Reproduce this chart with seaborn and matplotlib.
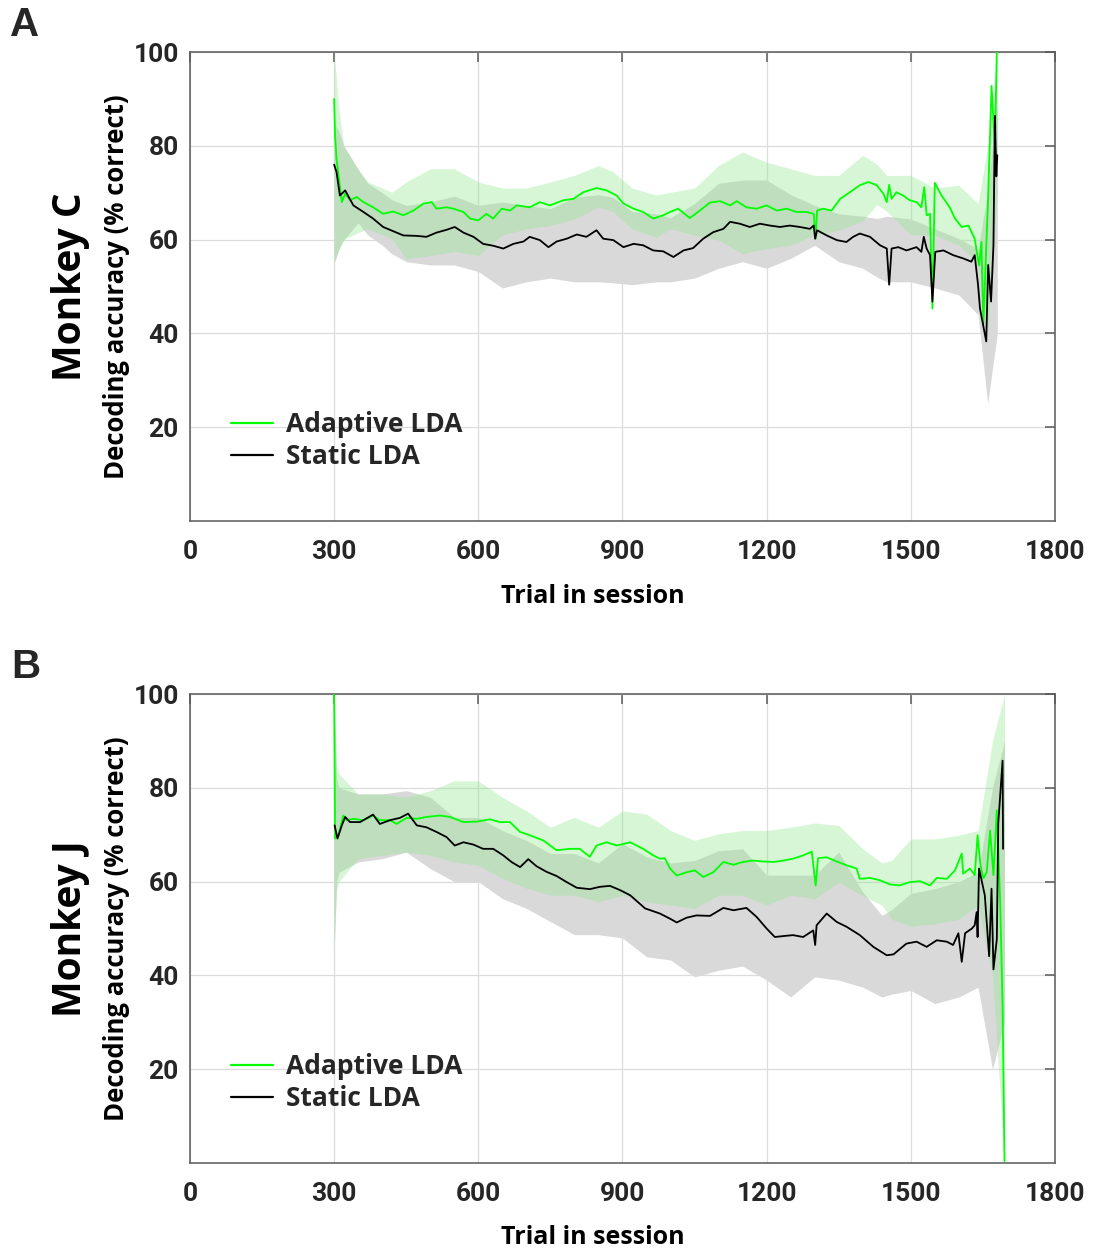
import matplotlib
matplotlib.use('Agg')
import matplotlib.pyplot as plt
import seaborn as sns

# ---- Monkey C (panel A) ----
c_adapt_x = [300, 302, 305, 316, 323, 333, 347, 361, 381, 402,
             423, 444, 465, 486, 503, 513, 534, 548, 569, 583,
             600, 617, 631, 649, 666, 680, 707, 728, 749, 777,
             798, 818, 846, 867, 888, 902, 923, 943, 964, 985,
             999, 1016, 1040, 1061, 1082, 1103, 1124, 1138, 1158, 1179,
             1200, 1221, 1242, 1262, 1283, 1298, 1302, 1305, 1318, 1335,
             1353, 1373, 1394, 1412, 1429, 1443, 1450, 1455, 1460, 1470,
             1484, 1498, 1512, 1522, 1528, 1533, 1540, 1545, 1550, 1564,
             1581, 1592, 1606, 1620, 1633, 1642, 1647, 1651, 1661, 1668,
             1675, 1679, 1682]
c_adapt_y = [90, 82, 77.2, 68.0, 69.8, 68.4, 69.1, 68.0, 66.9, 65.5,
             66.0, 65.2, 66.2, 67.7, 68.0, 66.6, 66.9, 66.6, 65.9, 64.5,
             64.1, 65.5, 64.5, 66.6, 66.2, 67.3, 66.9, 68.0, 67.3, 68.4,
             68.7, 70.1, 71.0, 70.5, 69.4, 67.7, 66.6, 65.9, 64.5, 65.2,
             65.9, 66.6, 64.6, 66.2, 67.9, 68.2, 67.3, 68.2, 66.9, 66.6,
             67.3, 66.2, 66.6, 65.9, 65.9, 65.5, 60.2, 66.2, 66.6, 66.2,
             68.7, 70.1, 71.6, 72.3, 71.6, 69.8, 68.0, 71.7, 68.7, 70.1,
             69.4, 68.4, 68.0, 66.9, 71.2, 65.2, 65.5, 45.3, 72.1, 69.4,
             66.9, 64.5, 62.7, 63.0, 60.2, 54.5, 59.5, 42.0, 69.2, 92.8,
             80, 100, 104]

c_static_x = [300, 305, 312, 323, 340, 361, 381, 402, 423, 444,
              472, 492, 513, 534, 551, 569, 590, 610, 631, 652,
              673, 694, 707, 728, 746, 763, 784, 805, 825, 846,
              860, 881, 902, 923, 943, 964, 985, 1006, 1027, 1047,
              1068, 1089, 1110, 1124, 1144, 1165, 1186, 1207, 1228, 1248,
              1269, 1290, 1298, 1301, 1305, 1325, 1346, 1366, 1380, 1394,
              1415, 1436, 1450, 1455, 1460, 1474, 1491, 1512, 1522, 1527,
              1533, 1540, 1545, 1551, 1568, 1588, 1609, 1626, 1633, 1640,
              1644, 1657, 1661, 1667, 1672, 1675, 1678, 1680]
c_static_y = [76, 74.4, 69.4, 70.5, 67.3, 65.9, 64.5, 62.7, 61.8, 60.9,
              60.8, 60.6, 61.5, 62.1, 62.7, 61.5, 60.6, 59.1, 58.7, 58.1,
              59.1, 59.6, 60.6, 59.9, 58.4, 59.6, 60.2, 61.1, 60.6, 62.0,
              60.2, 59.9, 58.4, 59.1, 58.8, 57.7, 57.5, 56.3, 57.7, 58.2,
              60.2, 61.6, 62.3, 63.8, 63.4, 62.7, 63.4, 63.0, 62.7, 63.0,
              62.7, 62.3, 63.0, 60.2, 62.0, 60.9, 59.9, 59.5, 60.6, 61.3,
              60.6, 58.8, 58.1, 50.4, 58.1, 58.4, 57.7, 58.4, 57.4, 60.6,
              58.1, 56.7, 46.8, 57.4, 57.7, 56.7, 56.0, 55.3, 56.7, 50.3,
              45.3, 38.3, 54.6, 46.8, 58.8, 86.4, 73.5, 78]

c_band_x = [300, 310, 320, 350, 370, 400, 420, 450, 500, 550, 600, 650, 700, 750, 800, 850, 880, 920,
            970, 1000, 1050, 1100, 1150, 1200, 1250, 1300, 1350, 1400, 1430, 1450, 1500, 1550, 1600,
            1640, 1660, 1680]
c_adapt_hi = [100, 88, 80, 75, 72.3, 71, 70.1, 72.3, 75.1, 75.1, 72.3, 71, 71, 72.3, 73.7, 75.8, 74.5, 71,
              69.5, 70.1, 71, 75.8, 78.7, 76.5, 75.1, 73.7, 73.7, 78, 76, 73.7, 73.7, 71, 71.6,
              67.7, 80, 100]
c_adapt_lo = [55, 58, 60, 61.5, 62.3, 61, 60.2, 55.9, 56.6, 57.5, 56.6, 61, 62.3, 63, 64.4, 67, 66, 62.3,
              60.5, 62.3, 61, 59.9, 57, 58.1, 58.8, 61, 62, 64, 67.5, 66, 61, 61, 58.8,
              55, 40, 70]
c_static_hi = [85, 83, 80, 75, 72, 70, 68.5, 67.3, 68, 69.3, 67.3, 68, 67.3, 66.6, 69, 69.6, 69, 66,
               65.5, 64.7, 67.7, 72, 72.7, 72.7, 69.6, 67.3, 65.5, 65, 64.5, 65, 64.4, 62.3, 60.2,
               58, 70, 90]
c_static_lo = [55, 58, 60, 63.6, 61, 58.8, 57, 55.3, 54.6, 54.6, 53.2, 49.7, 51, 51.8, 51, 51, 50.8, 50.4,
               51, 51, 51.8, 53.9, 55.3, 53.9, 56, 58.8, 55.3, 53.9, 52, 51, 51, 49.7, 48.2,
               44, 25, 40]

# ---- Monkey J (panel B) ----
j_adapt_x = [300, 302, 309, 319, 326, 340, 361, 381, 395, 416,
             430, 451, 472, 492, 520, 541, 569, 597, 624, 645,
             666, 687, 707, 735, 763, 791, 811, 832, 846, 867,
             888, 916, 943, 964, 978, 988, 999, 1013, 1033, 1051,
             1068, 1089, 1110, 1131, 1151, 1172, 1193, 1214, 1235, 1255,
             1276, 1294, 1302, 1307, 1325, 1346, 1366, 1387, 1394, 1415,
             1436, 1457, 1477, 1498, 1519, 1540, 1554, 1575, 1592, 1606,
             1609, 1623, 1633, 1639, 1645, 1651, 1658, 1665, 1672, 1679,
             1686, 1691, 1695]
j_adapt_y = [100, 69.2, 69.9, 74.1, 73.1, 73.4, 73.1, 74.1, 73.1, 73.1,
             72.3, 73.6, 73.4, 73.8, 74.1, 73.8, 72.7, 72.8, 73.3, 72.7,
             72.7, 70.6, 69.9, 68.8, 66.7, 67.0, 67.0, 65.3, 67.7, 68.4,
             67.7, 68.4, 67.0, 65.6, 64.9, 65.0, 62.8, 61.3, 62.0, 62.4,
             61.0, 62.0, 64.2, 63.6, 64.2, 64.5, 64.3, 64.2, 64.5, 64.9,
             65.6, 66.4, 59.2, 65.0, 65.2, 64.3, 63.5, 62.8, 60.6, 60.8,
             60.3, 59.4, 59.2, 59.9, 60.1, 59.2, 60.8, 60.6, 62.4, 66.0,
             61.7, 62.8, 61.4, 69.9, 63.5, 60.7, 62, 70.9, 61.4, 75.2,
             55.7, 33.7, 0.4]

j_static_x = [301, 307, 316, 323, 333, 354, 381, 395, 416, 437,
              454, 472, 492, 513, 534, 551, 569, 590, 610, 631,
              652, 669, 687, 704, 721, 742, 763, 784, 805, 832,
              853, 874, 895, 916, 936, 947, 978, 999, 1013, 1033,
              1054, 1082, 1110, 1131, 1158, 1179, 1200, 1217, 1235, 1255,
              1276, 1297, 1301, 1304, 1325, 1346, 1366, 1394, 1422, 1450,
              1464, 1491, 1512, 1533, 1554, 1575, 1588, 1599, 1606, 1613,
              1627, 1633, 1637, 1639, 1642, 1654, 1663, 1668, 1672, 1679,
              1682, 1691, 1692]
j_static_y = [72, 69.2, 72.0, 73.8, 72.7, 72.7, 74.3, 72.3, 73.1, 73.6,
              74.5, 72.0, 71.6, 70.6, 69.5, 67.7, 68.4, 67.9, 67.0, 67.0,
              65.6, 64.2, 63.1, 64.8, 63.3, 62.1, 61.2, 59.9, 58.7, 58.4,
              58.9, 59.1, 58.2, 57.1, 55.3, 54.3, 53.2, 52.1, 51.3, 52.3,
              52.8, 52.7, 54.4, 53.9, 54.4, 52.5, 50.0, 48.2, 48.4, 48.6,
              48.2, 49.6, 46.5, 50.7, 53.2, 51.4, 50.4, 48.6, 46.1, 44.3,
              44.5, 46.8, 47.2, 46.1, 47.5, 47.2, 46.5, 49.0, 42.9, 49.0,
              50.0, 50.7, 53.5, 48.2, 62.8, 57.1, 44.1, 58.5, 41.3, 47.7,
              72.4, 85.8, 67]

j_band_x = [300, 305, 310, 350, 400, 450, 500, 550, 600, 650, 700, 750, 800, 850, 900, 950, 1000,
            1050, 1100, 1150, 1200, 1250, 1300, 1350, 1400, 1440, 1460, 1500, 1550, 1600, 1640, 1670, 1695]
j_adapt_hi = [100, 85, 83, 78.7, 78.7, 78, 79.4, 81.5, 81.5, 78, 75.1, 71.6, 73.7, 71.6, 75.1, 74.4, 70.9,
              68.8, 70.2, 70.9, 70.9, 71.6, 72.5, 72, 67, 64, 64.5, 69.1, 69.1, 69.9, 70.9, 90, 100]
j_adapt_lo = [45, 58, 60, 64.9, 65.6, 66.3, 65.6, 64.2, 63.5, 60.7, 58.6, 57.1, 57.1, 55.7, 57.1, 55.7, 55,
              54.3, 57.1, 57.1, 55, 57.1, 56.4, 59.9, 57, 55, 52, 50.5, 51, 52, 55, 40, 0]
j_static_hi = [100, 82, 80, 78.7, 78.7, 79.4, 78, 73.7, 73.7, 70.9, 68.8, 66, 66, 64, 68.1, 65.3, 64,
               64.5, 66.6, 67, 61.4, 61.4, 61.4, 66.3, 57.8, 52.8, 54, 57.5, 58.5, 60, 62, 80, 90]
j_static_lo = [45, 60, 62, 64.2, 64.9, 66.3, 62.8, 60, 60, 56.4, 54.3, 51.5, 48.7, 48.7, 48, 44, 43.3,
               39.7, 41.1, 42, 39, 35.4, 39.7, 39, 37.5, 35.4, 36, 36.8, 34, 35.4, 37.5, 20, 30]

x_ticks = [0, 300, 600, 900, 1200, 1500, 1800]
y_ticks = [20, 40, 60, 80, 100]

sns.set_style('white')
plt.rcParams['font.family'] = ['Roboto', 'DejaVu Sans']

GREEN = '#00ff00'
BAND_GREEN = (144 / 255, 233 / 255, 144 / 255)
AX_GRAY = '#595959'
TXT = '#262626'
label_font = ['Open Sans', 'DejaVu Sans']

fig = plt.figure(figsize=(10.93, 12.51), dpi=100)
axA = fig.add_axes([0.1738, 0.5835, 0.7914, 0.3749])
axB = fig.add_axes([0.1738, 0.0703, 0.7914, 0.3749])


def draw_panel(ax, band_x, a_hi, a_lo, s_hi, s_lo, ax_x, ax_y, sx, sy):
    ax.fill_between(band_x, s_lo, s_hi, color='#d9d9d9', lw=0, zorder=1)
    ax.fill_between(band_x, a_lo, a_hi, color=BAND_GREEN, alpha=0.37, lw=0, zorder=2)
    sns.lineplot(x=ax_x, y=ax_y, ax=ax, color=GREEN, lw=1.3, label='Adaptive LDA',
                 sort=False, estimator=None, zorder=3)
    sns.lineplot(x=sx, y=sy, ax=ax, color='black', lw=1.3, label='Static LDA',
                 sort=False, estimator=None, zorder=4)

    ax.set_xlim(0, 1800)
    ax.set_ylim(0, 100)
    ax.set_xticks(x_ticks)
    ax.set_yticks(y_ticks)
    ax.grid(True, color='#dcdcdc', lw=0.9)
    ax.set_axisbelow(True)
    for s in ax.spines.values():
        s.set_color(AX_GRAY)
        s.set_linewidth(1.1)
    ax.tick_params(direction='in', length=7, width=1.1, color=AX_GRAY,
                   top=True, right=True, labelsize=19, labelcolor=TXT)
    ax.tick_params(axis='x', pad=14)
    ax.tick_params(axis='y', pad=8)
    for lab in ax.get_xticklabels() + ax.get_yticklabels():
        lab.set_fontweight('bold')
    ax.set_xlabel('')
    ax.set_ylabel('')

    leg = ax.legend(loc='lower left', bbox_to_anchor=(0.02, 0.058), frameon=False,
                    handlelength=1.6, handletextpad=0.5, labelspacing=0.2,
                    prop={'family': label_font, 'weight': 'bold', 'size': 19})
    for line in leg.get_lines():
        line.set_linewidth(1.6)


draw_panel(axA, c_band_x, c_adapt_hi, c_adapt_lo, c_static_hi, c_static_lo,
           c_adapt_x, c_adapt_y, c_static_x, c_static_y)
draw_panel(axB, j_band_x, j_adapt_hi, j_adapt_lo, j_static_hi, j_static_lo,
           j_adapt_x, j_adapt_y, j_static_x, j_static_y)

W, H = 1093, 1251
for panel, monkey, ycen, xlab_y in [('A', 'Monkey C', 287, 596), ('B', 'Monkey J', 929, 1237)]:
    fig.text(70 / W, 1 - ycen / H, monkey, rotation=90, ha='center', va='center',
             fontsize=28, fontweight='bold', family=label_font, color='black')
    fig.text(116 / W, 1 - ycen / H, 'Decoding accuracy (% correct)', rotation=90,
             ha='center', va='center', fontsize=18.5, fontweight='bold', family=label_font, color='black')
    fig.text(593 / W, 1 - xlab_y / H, 'Trial in session', ha='center', va='center',
             fontsize=18, fontweight='bold', family=label_font, color='black')

fig.text(25 / W, 1 - 25 / H, 'A', ha='center', va='center', fontsize=29, fontweight='bold',
         family=['Liberation Sans', 'DejaVu Sans'])
fig.text(26 / W, 1 - 667 / H, 'B', ha='center', va='center', fontsize=29, fontweight='bold',
         family=['Liberation Sans', 'DejaVu Sans'])

fig.savefig('out.png', dpi=100)
